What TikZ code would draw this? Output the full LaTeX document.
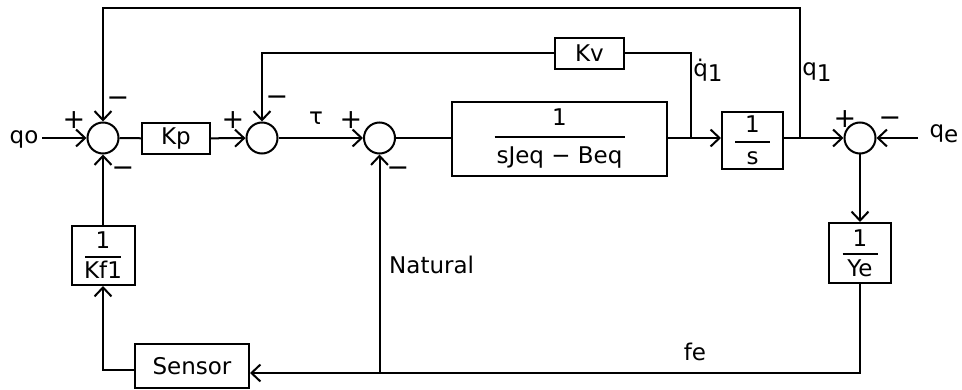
\documentclass[tikz,border=0pt]{standalone}
\usepackage{fontspec}
\setmainfont{DejaVu Sans}
\usetikzlibrary{arrows.meta}
\setlength\arrayrulewidth{2pt}
% #1 numerator, #2 denominator, #3 rule width, #4 gap under numerator, #5 rule-to-baseline of denominator
\newcommand\fr[5]{{\renewcommand\arraystretch{0}\begin{tabular}{@{}c@{}}\rule[-#4]{0pt}{17pt}#1\\\hline\rule{0pt}{#5}\makebox[#3]{#2}\end{tabular}}}
\tikzset{
  every node/.style={font=\fontsize{23}{27}\selectfont},
  ln/.style={line width=2pt},
  arr/.style={ln,-{Straight Barb[length=9pt,width=17pt]}},
  blk/.style={draw,ln,inner sep=0pt,align=center},
  sumj/.style={draw,ln,circle,minimum size=31pt,inner sep=0pt},
  sgn/.style={inner sep=0pt,font=\fontsize{27}{30}\selectfont}
}
\begin{document}
\begin{tikzpicture}[x=1pt,y=-1pt]
\useasboundingbox (0,0) rectangle (962,390);
% summing junctions
\node[sumj] (j1) at (103,138) {};
\node[sumj] (j2) at (262,138) {};
\node[sumj] (j3) at (379.5,138) {};
\node[sumj] (j4) at (860,138) {};
% blocks
\node[blk,minimum width=68pt,minimum height=31pt] (Kp) at (176,138.5) {Kp};
\node[blk,minimum width=69pt,minimum height=31pt] (Kv) at (589.5,53.5) {Kv};
\node[blk,minimum width=215pt,minimum height=74pt] (big) at (559.5,139) {\fr{1}{sJeq − Beq}{130pt}{10pt}{26pt}};
\node[blk,minimum width=61pt,minimum height=57pt] (s) at (752.5,140.5) {\fr{1}{s}{35pt}{8pt}{22pt}};
\node[blk,minimum width=63pt,minimum height=59pt] (Kf) at (103,255.5) {\fr{1}{Kf1}{36pt}{7pt}{21pt}};
\node[blk,minimum width=62pt,minimum height=60pt] (Ye) at (860,253) {\fr{1}{Ye}{35pt}{7pt}{21pt}};
\node[blk,minimum width=114pt,minimum height=44pt] (Sensor) at (192,366) {Sensor};
% labels
\node[inner sep=1pt] (qo) at (24,139.5) {qo};
\node[inner sep=0pt] (qe) at (944,134) {q\raisebox{-5pt}{e}};
\node[inner sep=0pt] (tau) at (316,118) {τ};
\node[inner sep=0pt] (qd) at (708,70) {\.q\raisebox{-5pt}{1}};
\node[inner sep=0pt] (q1) at (817,72) {q\raisebox{-6pt}{1}};
\node[inner sep=0pt,anchor=west] (nat) at (389,265) {Natural};
\node[inner sep=0pt] (fe) at (695,352) {fe};
% signs
\node[sgn] (s1a) at (74,120) {+};
\node[sgn] (s1b) at (118,102) {−};
\node[sgn] (s1c) at (123,172) {−};
\node[sgn] (s2a) at (233,120) {+};
\node[sgn] (s2b) at (277,101) {−};
\node[sgn] (s3a) at (351,120) {+};
\node[sgn] (s3b) at (398,172) {−};
\node[sgn] (s4a) at (845,119) {+};
\node[sgn] (s4b) at (890,122) {−};
% coordinates
\coordinate (b1) at (691,138);
\coordinate (b2) at (800,138);
\coordinate (t2) at (800,8);
\coordinate (fc) at (860,373);
\coordinate (nb) at (379.5,373);
\coordinate (qs) at (42,138);
\coordinate (qes) at (918,138);
% connectors
\draw[arr] (qs) -- (j1);
\draw[ln] (j1) -- (Kp);
\draw[arr] (Kp) -- (j2);
\draw[arr] (j2) -- (j3);
\draw[ln] (j3.east) -- (j3.east -| big.west);
\draw[arr] (big.east |- j3) -- (s.west |- j3);
\draw[arr] (s.east |- j4) -- (j4);
\draw[arr] (qes) -- (j4);
\draw[arr] (j4) -- (Ye);
\draw[arr] (Ye) -- (fc) -- (fc -| Sensor.east);
\draw[arr] (nb) -- (j3);
\draw[arr] ([yshift=-4pt]Sensor.west) -| (Kf);
\draw[arr] (Kf) -- (j1);
\draw[arr] (b2) -- (t2) -| (j1);
\draw[ln] (b1) |- (Kv);
\draw[arr] (Kv) -| (j2);
\end{tikzpicture}
\end{document}
